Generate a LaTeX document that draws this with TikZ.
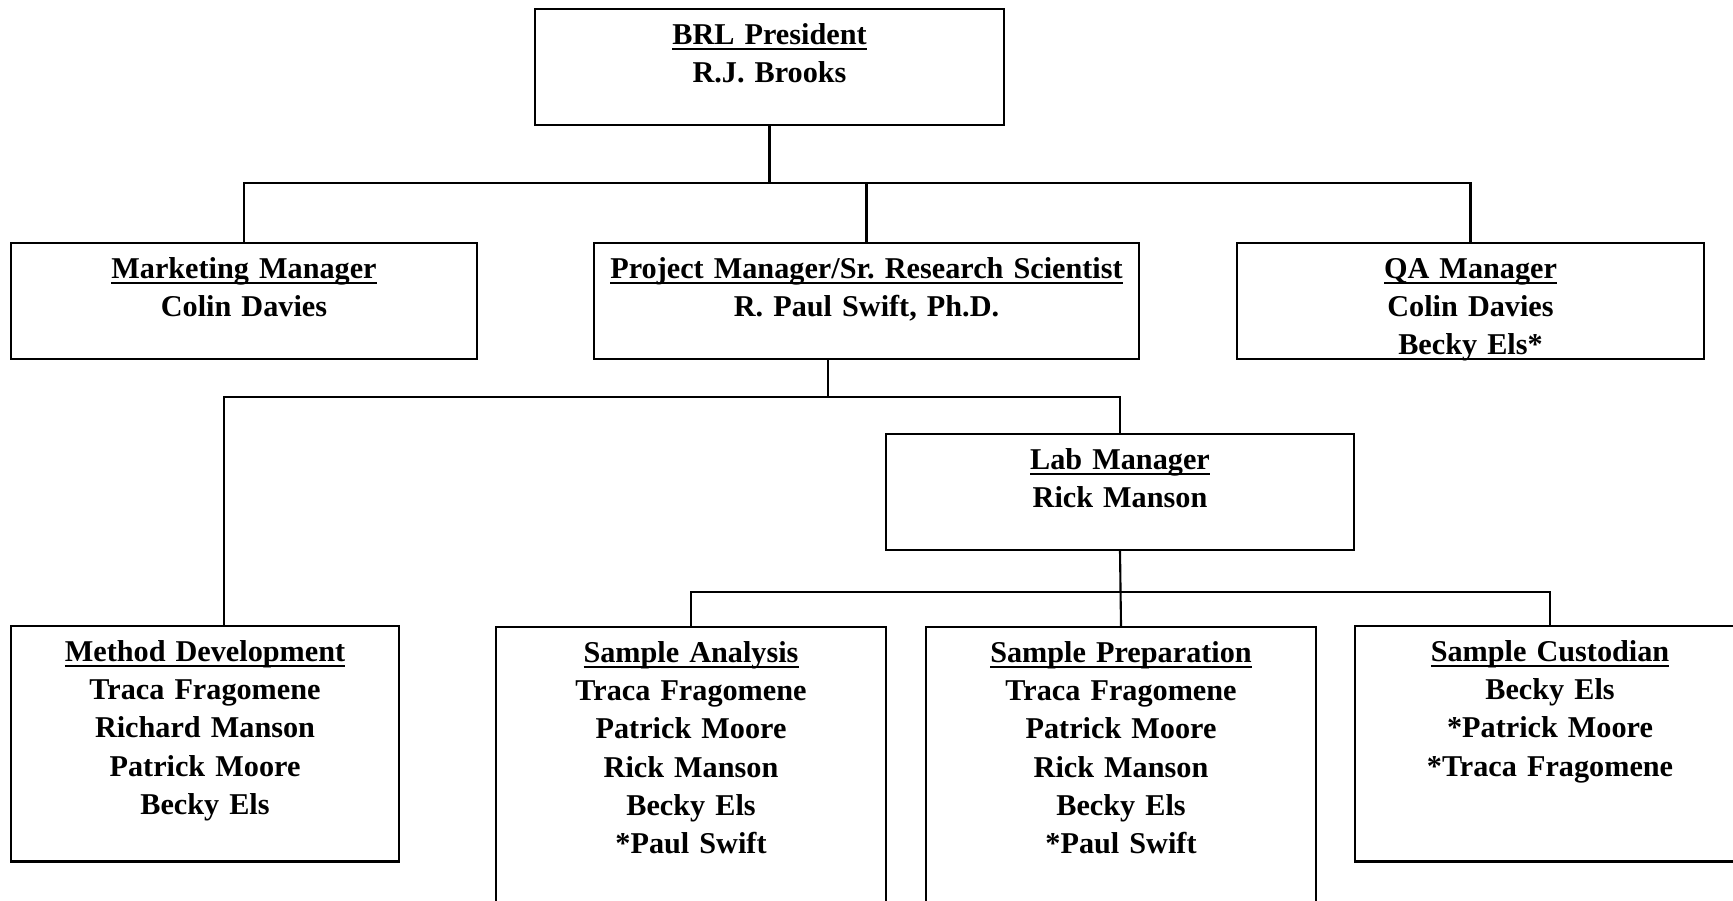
\documentclass[tikz,border=0pt]{standalone}
\usepackage{fontspec}
\setmainfont{Liberation Serif}
\usepackage{tikz}
\usetikzlibrary{positioning}

% underlined heading line, rule kept close to the baseline
\newcommand{\orgtitle}[1]{\underline{\smash{#1}}}

\begin{document}
\frenchspacing
\begin{tikzpicture}[
  box/.style={draw, line width=0.7pt, inner sep=0pt, align=center, text height=10pt,
    font=\fontsize{8.6pt}{10.9pt}\selectfont\bfseries},
  short/.style={text depth=23pt},
  tall/.style={text depth=57pt},
  deep/.style={text depth=87pt},
  link/.style={line width=0.6pt}
]
  \useasboundingbox (0,0) rectangle (17.33,9);
  \clip (0,0) rectangle (17.33,9);

  % top of the chart
  \node[box, short, text width=4.69cm] (pres) at (7.695,8.33) {\orgtitle{BRL President}\\R.J. Brooks};

  % managers
  \node[box, short, text width=4.66cm] (mkt) at (2.44,5.99) {\orgtitle{Marketing Manager}\\Colin Davies};
  \node[box, short, text width=5.45cm] (pm) at (8.665,5.99) {\orgtitle{Project Manager/Sr. Research Scientist}\\R. Paul Swift, Ph.D.};
  \node[box, short, text width=4.67cm] (qa) at (14.705,5.99) {\orgtitle{QA Manager}\\Colin Davies\\Becky Els*};

  \node[box, short, text width=4.68cm] (lab) at (11.20,4.08) {\orgtitle{Lab Manager}\\Rick Manson};

  % groups
  \node[box, tall, text width=3.88cm] (md) at (2.05,1.563) {\orgtitle{Method Development}\\Traca Fragomene\\Richard Manson\\Patrick Moore\\Becky Els};
  \node[box, deep, text width=3.90cm] (sa) at (6.91,1.025) {\orgtitle{Sample Analysis}\\Traca Fragomene\\Patrick Moore\\Rick Manson\\Becky Els\\{}*Paul Swift};
  \node[box, deep, text width=3.90cm] (sp) at (11.21,1.025) {\orgtitle{Sample Preparation}\\Traca Fragomene\\Patrick Moore\\Rick Manson\\Becky Els\\{}*Paul Swift};
  \node[box, tall, text width=3.90cm] (sc) at (15.50,1.563) {\orgtitle{Sample Custodian}\\Becky Els\\{}*Patrick Moore\\{}*Traca Fragomene};

  % connectors
  \draw[link] (pres.south) -- ++(0,-0.57) coordinate (bus1);
  \draw[link] (mkt.north) |- (bus1) -| (qa.north);
  \draw[link] (pm.north) -- (pm.north |- bus1);

  \draw[link] ([xshift=-3.85mm]pm.south) -- ++(0,-0.37) coordinate (bus2);
  \draw[link] ([xshift=1.9mm]md.north) |- (bus2) -| (lab.north);

  \coordinate (bus3) at ([yshift=-4.1mm]lab.south);
  \draw[link] (lab.south) -- (sp.north);
  \draw[link] (sa.north) |- (bus3) -| (sc.north);
\end{tikzpicture}
\end{document}
